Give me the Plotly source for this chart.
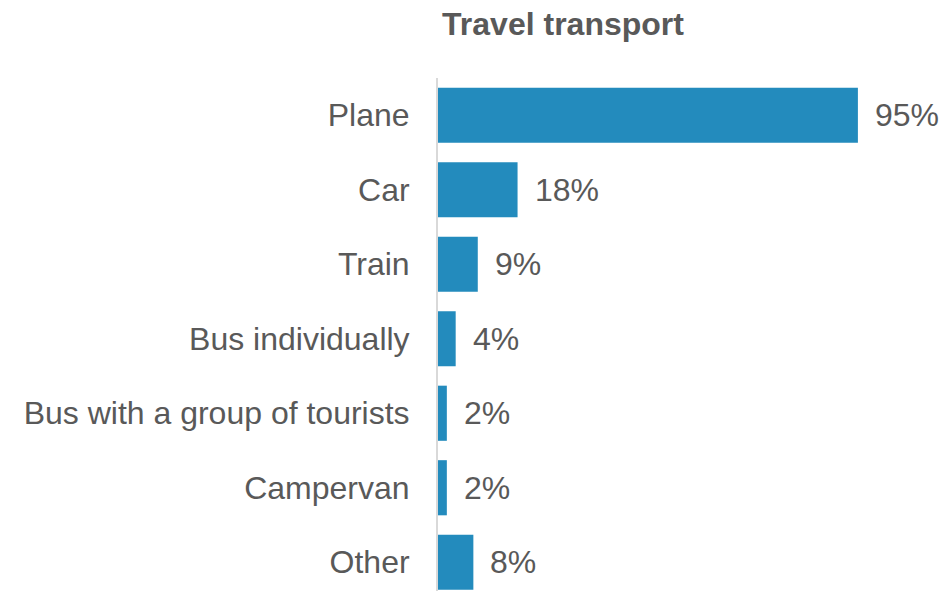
import plotly.graph_objects as go

categories = ["Plane", "Car", "Train", "Bus individually",
              "Bus with a group of tourists", "Campervan", "Other"]
shares = [95, 18, 9, 4, 2, 2, 8]
value_labels = ["95%", "18%", "9%", "4%", "2%", "2%", "8%"]

BAR_COLOR = "#238BBD"
TEXT_COLOR = "#595959"
FONT = "Liberation Sans, Arial, sans-serif"
FONT_SIZE = 32

fig = go.Figure(go.Bar(
    x=shares,
    y=categories,
    orientation="h",
    marker=dict(color=BAR_COLOR, line=dict(width=0)),
    width=0.74,
    hoverinfo="skip",
))

for cat, val, lab in zip(categories, shares, value_labels):
    fig.add_annotation(
        x=val, y=cat, text=lab, showarrow=False,
        xanchor="left", yanchor="middle", xshift=15,
        font=dict(family=FONT, size=FONT_SIZE, color=TEXT_COLOR),
    )

fig.update_layout(
    width=951, height=591,
    margin=dict(l=438, r=71, t=78, b=0),
    paper_bgcolor="white", plot_bgcolor="white",
    showlegend=False,
    title=dict(
        text="<b>Travel transport</b>",
        x=563 / 951, xanchor="center", y=1 - 24 / 591, yanchor="middle",
        font=dict(family=FONT, size=FONT_SIZE, color=TEXT_COLOR),
    ),
    font=dict(family=FONT, size=FONT_SIZE, color=TEXT_COLOR),
)
fig.update_xaxes(range=[0, 100], visible=False, showgrid=False, zeroline=False)
fig.update_yaxes(
    range=[6.386, -0.5],
    showgrid=False, zeroline=False,
    showline=True, linecolor="#D9D9D9", linewidth=2,
    ticks="", ticklabelstandoff=20,
    tickfont=dict(family=FONT, size=FONT_SIZE, color=TEXT_COLOR),
)

fig.write_html("out.html")
